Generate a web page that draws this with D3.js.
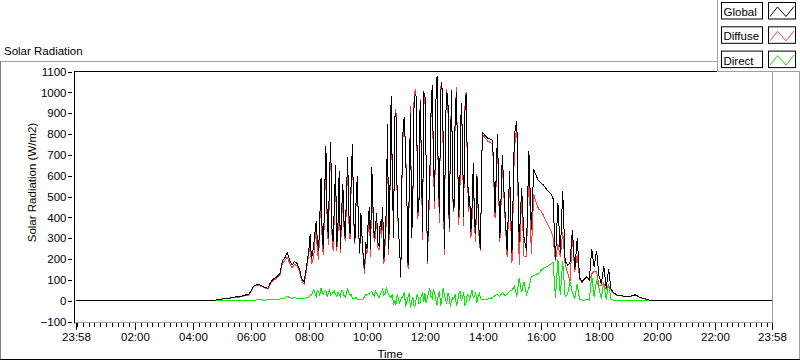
<!DOCTYPE html>
<html>
<head>
<meta charset="utf-8">
<script src="https://cdn.jsdelivr.net/npm/d3@7"></script>
<style>
    body { margin: 0; background: #fff; }
    svg { display: block; font-family: "Liberation Sans", Arial, sans-serif; font-size: 11.5px; }
</style>
</head>
<body>
<svg id="chart" width="800" height="361"></svg>
<script>
// series / legend
const seriesNames = ['Global', 'Diffuse', 'Direct'];
const seriesColors = ['#000000', '#ff3c3c', '#00ee00'];

// morning: every 5 min from 04:45 to 07:55 (W/m2, one row per hour)
const amStart = '04:45', amStep = 5;
const globalAM = [
    2, 5, 8,
    8, 10, 11, 12, 15, 17, 18, 19, 21, 25, 28, 30,
    45, 68, 75, 78, 74, 68, 62, 60, 85, 102, 108, 118,
    130, 190, 205, 230, 195, 170, 188, 180, 155, 105, 90, 165
];
const diffuseAM = [
    2, 5, 7,
    7, 9, 10, 11, 14, 15, 16, 17, 19, 22, 24, 26,
    42, 65, 72, 74, 70, 65, 59, 56, 80, 97, 103, 112,
    122, 180, 193, 208, 181, 158, 174, 168, 145, 95, 79, 151
];
const directAM = [
    0, 0, 0,
    0, 0, 0, 1, 1, 1, 1, 2, 2, 2, 3, 3,
    3, 3, 3, 4, 4, 3, 3, 4, 5, 5, 5, 6,
    8, 10, 12, 22, 14, 12, 14, 12, 10, 10, 11, 14
];

// midday: every 2.5 min from 08:00 to 13:57.5
const midStart = '08:00', midStep = 2.5;
const globalMid = [
    250, 320, 200, 230, 270, 330, 380, 280, 240, 400, 590, 300, 250, 520, 740, 420, 300, 600, 760, 350, 280, 450, 650, 260,
    360, 620, 250, 420, 560, 380, 300, 500, 690, 420, 320, 600, 750, 400, 280, 480, 600, 350, 230, 420, 300, 200, 150, 280,
    250, 380, 450, 250, 640, 450, 300, 350, 420, 280, 260, 380, 340, 450, 200, 300, 440, 850, 250, 520, 980, 600, 300, 880,
    900, 500, 350, 250, 115, 600, 850, 880, 700, 500, 170, 550, 900, 300, 500, 950, 990, 980, 420, 450, 960, 700, 330, 1000,
    990, 650, 190, 420, 600, 900, 1035, 700, 480, 950, 1080, 600, 420, 1000, 1050, 800, 250, 850, 1000, 980, 350, 700, 1010, 500,
    434, 900, 1000, 700, 400, 600, 950, 800, 400, 900, 990, 700, 450, 500, 330, 450, 660, 380, 320, 600, 450, 300, 250, 700
];
const diffuseMid = [
    232, 290, 175, 190, 215, 295, 360, 230, 195, 375, 530, 260, 220, 475, 690, 400, 265, 545, 735, 320, 240, 405, 620, 240,
    320, 590, 230, 370, 515, 355, 285, 465, 635, 380, 295, 570, 738, 390, 272, 465, 595, 344, 226, 412, 294, 190, 130, 250,
    225, 345, 420, 210, 595, 420, 280, 305, 385, 255, 245, 350, 300, 395, 175, 265, 380, 805, 220, 500, 965, 570, 320, 880,
    920, 470, 340, 260, 110, 585, 825, 840, 730, 505, 150, 515, 935, 300, 485, 980, 1015, 960, 390, 465, 970, 675, 290, 1005,
    955, 660, 175, 380, 540, 880, 1025, 645, 440, 950, 1070, 575, 375, 1025, 1045, 740, 220, 840, 1015, 945, 330, 730, 1010, 485,
    424, 870, 1025, 705, 365, 555, 950, 785, 360, 920, 1000, 670, 425, 495, 300, 400, 645, 360, 280, 610, 430, 265, 240, 695
];
const directMid = [
    18, 30, 25, 40, 55, 35, 20, 50, 45, 25, 60, 40, 30, 45, 50, 20, 35, 55, 25, 30, 40, 45, 30, 20,
    40, 30, 20, 50, 45, 25, 15, 35, 55, 40, 25, 30, 12, 10, 8, 15, 5, 6, 4, 8, 6, 10, 20, 30,
    25, 35, 30, 40, 45, 30, 20, 45, 35, 25, 15, 30, 40, 55, 25, 35, 60, 45, 30, 20, 15, 30, -20, 0,
    -20, 30, 10, -10, 5, 15, 25, 40, -30, -5, 20, 35, -35, 0, 15, -30, -25, 20, 30, -15, -10, 25, 40, -5,
    35, -10, 15, 40, 60, 20, 10, 55, 40, 0, -20, 25, 45, -25, 5, 60, 30, 10, -15, 35, 20, -30, 0, 15,
    10, 30, -25, -5, 35, 45, 0, 15, 40, -20, -10, 30, 25, 5, 30, 50, 15, 20, 40, -10, 20, 35, 10, 5
];

// afternoon: every 5 min from 14:00 to 19:55
const pmStart = '14:00', pmStep = 5;
const globalPM = [
    805, 790, 780, 775, 770, 420, 800, 300, 700, 450, 240, 620,
    230, 800, 860, 280, 540, 300, 240, 720, 340, 630, 600, 575,
    565, 555, 540, 525, 515, 490, 200, 470, 230, 525, 190, 170,
    180, 340, 150, 300, 110, 90, 105, 115, 100, 250, 160, 240,
    120, 80, 165, 60, 150, 55, 40, 30, 25, 24, 22, 22,
    22, 22, 25, 28, 22, 15, 12, 10, 5, 2, 0, 0
];
const diffusePM = [
    795, 780, 765, 760, 750, 395, 770, 280, 660, 425, 210, 575,
    180, 730, 840, 170, 500, 210, 210, 660, 225, 510, 470, 440,
    430, 410, 385, 362, 340, 305, 190, 270, 210, 330, 175, 135,
    90, 300, 140, 220, 105, 87, 102, 111, 97, 130, 140, 140,
    70, 75, 80, 55, 75, 50, 37, 28, 24, 23, 22, 22,
    21, 21, 24, 27, 21, 14, 11, 9, 5, 2, 0, 0
];
const directPM = [
    5, 5, 8, 10, 15, 25, 30, 20, 40, 25, 30, 45,
    50, 70, 20, 110, 40, 90, 30, 60, 115, 120, 125, 130,
    145, 155, 160, 168, 175, 185, 15, 200, 25, 190, 20, 30,
    90, 40, 10, 80, 5, 3, 3, 4, 3, 120, 20, 100,
    60, 10, 90, 5, 80, 5, 3, 2, 1, 1, 0, 0,
    0, 0, 0, 0, 0, 0, 0, 0, 0, 0, 0, 0
];

const xTickLabels = ['23:58', '02:00', '04:00', '06:00', '08:00', '10:00', '12:00',
                     '14:00', '16:00', '18:00', '20:00', '22:00', '23:58'];
const yTicks = [-100, 0, 100, 200, 300, 400, 500, 600, 700, 800, 900, 1000, 1100];

const chartTitle = 'Solar Radiation';
const yTitle = 'Solar Radiation (W/m2)';
const xTitle = 'Time';

// ---- layout
const svg = d3.select('#chart');
const plotLeft = 76, plotRight = 772, plotTop = 71.5, plotBottom = 321.5;
const axisY = 322.5;

// minutes after 23:58 of the previous day
const toMin = s => { const p = s.split(':'); return +p[0] * 60 + +p[1]; };
const dayStart = toMin('23:58') - 1440;
const offset = s => toMin(s) - dayStart;

const x = d3.scaleLinear().domain([0, 1440]).range([plotLeft, plotRight]);
const y = d3.scaleLinear().domain([-100, 1100]).range([plotBottom, plotTop]);

function buildSeries(parts) {
    const pts = [{t: 0, v: 0}, {t: offset(parts[0][0]) - parts[0][1], v: 0}];
    let last = 0, lastStep = 5;
    parts.forEach(([start, step, values]) => {
        const t0 = offset(start);
        values.forEach((v, i) => pts.push({t: t0 + i * step, v: v}));
        last = t0 + (values.length - 1) * step;
        lastStep = step;
    });
    pts.push({t: last + lastStep, v: 0});
    pts.push({t: 1440, v: 0});
    return pts;
}

const allSeries = [
    [[amStart, amStep, globalAM], [midStart, midStep, globalMid], [pmStart, pmStep, globalPM]],
    [[amStart, amStep, diffuseAM], [midStart, midStep, diffuseMid], [pmStart, pmStep, diffusePM]],
    [[amStart, amStep, directAM], [midStart, midStep, directMid], [pmStart, pmStep, directPM]]
];

// outer panel
svg.append('line').attr('x1', 0).attr('x2', 717).attr('y1', 61.5).attr('y2', 61.5)
    .attr('stroke', '#a0a0a0');
svg.append('line').attr('x1', 0.5).attr('x2', 0.5).attr('y1', 61.5).attr('y2', 360)
    .attr('stroke', '#808080');
svg.append('line').attr('x1', 799.5).attr('x2', 799.5).attr('y1', 61.5).attr('y2', 360)
    .attr('stroke', '#a0a0a0');
svg.append('line').attr('x1', 0).attr('x2', 800).attr('y1', 359.5).attr('y2', 359.5)
    .attr('stroke', '#000');

svg.append('text').attr('x', 4).attr('y', 55).attr('fill', '#000').text(chartTitle);

// plot frame (right / bottom grey)
svg.append('line').attr('x1', 772.5).attr('x2', 772.5).attr('y1', plotTop).attr('y2', axisY)
    .attr('stroke', '#a0a0a0');
svg.append('line').attr('x1', 74).attr('x2', 773).attr('y1', axisY).attr('y2', axisY)
    .attr('stroke', '#a0a0a0');

// x axis: majors with labels, minors every 12 minutes from 00:00
const majors = xTickLabels.map((s, i) => i === 0 ? 0 : (i === xTickLabels.length - 1 ? 1440 : offset(s)));
const minors = d3.range(2, 1440, 12).filter(t => !majors.includes(t));

svg.append('g').attr('transform', `translate(0,${axisY})`)
    .call(d3.axisBottom(x).tickValues(minors).tickSize(4).tickFormat(''))
    .call(g => g.select('.domain').remove())
    .call(g => g.selectAll('line').attr('stroke', '#000').attr('shape-rendering', 'crispEdges'));

svg.append('g').attr('transform', `translate(0,${axisY})`)
    .call(d3.axisBottom(x).tickValues(majors).tickSize(7).tickPadding(3)
        .tickFormat((d, i) => xTickLabels[i]))
    .call(g => g.select('.domain').remove())
    .call(g => g.selectAll('line').attr('stroke', '#000').attr('shape-rendering', 'crispEdges'))
    .call(g => g.selectAll('text').attr('fill', '#000')
        .style('font-family', '"Liberation Sans", Arial, sans-serif').style('font-size', '11.5px'));

// y axis
svg.append('g').attr('transform', 'translate(71.5,0)')
    .call(d3.axisLeft(y).tickValues(yTicks).tickSize(4).tickPadding(1).tickFormat(d3.format('d')))
    .call(g => g.select('.domain').remove())
    .call(g => g.selectAll('line').attr('stroke', '#000').attr('shape-rendering', 'crispEdges'))
    .call(g => g.selectAll('text').attr('fill', '#000')
        .style('font-family', '"Liberation Sans", Arial, sans-serif').style('font-size', '11.5px'));

svg.append('text')
    .attr('transform', 'translate(36,182.5) rotate(-90)')
    .attr('text-anchor', 'middle').attr('fill', '#000').text(yTitle);

svg.append('text').attr('x', 390).attr('y', 357.5)
    .attr('text-anchor', 'middle').attr('fill', '#000').text(xTitle);

// data lines: Direct first, Diffuse, Global on top
const line = d3.line().x(d => x(d.t)).y(d => y(d.v));
[2, 1, 0].forEach(k => {
    svg.append('path')
        .datum(buildSeries(allSeries[k]))
        .attr('d', line)
        .attr('fill', 'none')
        .attr('stroke', seriesColors[k])
        .attr('stroke-width', 1)
        .attr('shape-rendering', 'crispEdges');
});

// left axis line and top border (black)
svg.append('line').attr('x1', 74.5).attr('x2', 74.5).attr('y1', plotTop).attr('y2', axisY + 1)
    .attr('stroke', '#000');
svg.append('line').attr('x1', 74).attr('x2', 773).attr('y1', plotTop).attr('y2', plotTop)
    .attr('stroke', '#000');

// legend panel
const lg = svg.append('g');
lg.append('rect').attr('x', 717.5).attr('y', -1).attr('width', 84).attr('height', 72.5)
    .attr('fill', '#fff').attr('stroke', '#a0a0a0');

seriesNames.forEach((name, i) => {
    const g = lg.append('g').attr('transform', `translate(0,${2 + i * 24.3})`);
    g.append('rect').attr('x', 721.5).attr('y', 0.5).attr('width', 41).attr('height', 16.5)
        .attr('fill', '#fff').attr('stroke', '#000');
    g.append('text').attr('x', 723.5).attr('y', 14).attr('fill', '#000').text(name);
    g.append('rect').attr('x', 768.5).attr('y', 0.5).attr('width', 27).attr('height', 16.5)
        .attr('fill', '#fff').attr('stroke', '#000');
    g.append('path')
        .attr('d', 'M770,14.5L777.5,5L786,14.5L794,4.5')
        .attr('fill', 'none').attr('stroke', seriesColors[i]).attr('stroke-width', 1);
});
</script>
</body>
</html>
